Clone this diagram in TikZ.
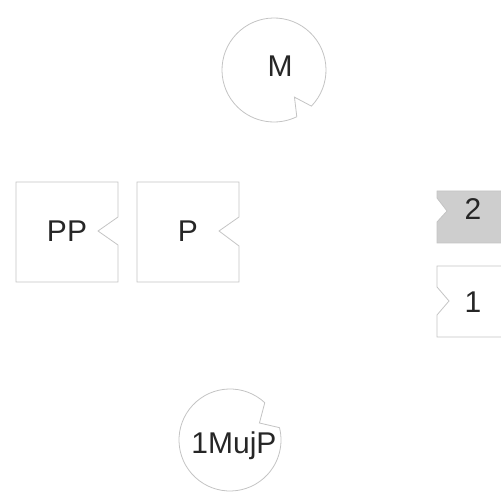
\documentclass[tikz,border=0pt]{standalone}
\usepackage{fontspec}
\setmainfont{Liberation Sans}
\usetikzlibrary{calc}
\definecolor{edgegray}{RGB}{196,196,196}
\definecolor{fillgray}{RGB}{206,206,206}
\definecolor{txt}{RGB}{38,38,38}
\begin{document}
\begin{tikzpicture}[x=1pt,y=1pt,
  shapeline/.style={draw=edgegray,line width=0.8pt,line join=miter},
  label/.style={text=txt,inner sep=0pt,text depth=0pt,font=\fontsize{30}{36}\selectfont}]
\useasboundingbox (0,0) rectangle (501,500);
\clip (0,0) rectangle (501,500);
% circle M with wedge at lower right
\coordinate (cM) at (274,430);
\draw[shapeline,fill=white] ($(cM)+(-44:52)$) arc[start angle=-44,end angle=296,radius=52]
  -- ($(cM)+(-53:34)$) -- cycle;
\node[label] (M) at (280,433.5) {M};
% boxes PP and P with notch on the right
\draw[shapeline] (16,318) -- (118,318) -- (118,283) -- (98,269) -- (118,255) -- (118,218) -- (16,218) -- cycle;
\node[label] (PP) at (67,269) {PP};
\draw[shapeline] (137,318) -- (239,318) -- (239,283) -- (219,269) -- (239,254) -- (239,218) -- (137,218) -- cycle;
\node[label] (P) at (188,269) {P};
% box 2 (grey) and box 1 with notch on the left
\draw[shapeline,fill=fillgray] (510,309) -- (437,309) -- (437,302) -- (447,289) -- (437,278) -- (437,257) -- (510,257) -- cycle;
\node[label] (two) at (473,291) {2};
\draw[shapeline] (510,234) -- (437,234) -- (437,213) -- (449,199) -- (437,185) -- (437,163) -- (510,163) -- cycle;
\node[label] (one) at (473,198) {1};
% circle 1MujP with wedge at upper right
\coordinate (cU) at (230,60);
\draw[shapeline,fill=white] ($(cU)+(47:51)$) arc[start angle=47,end angle=374,radius=51]
  -- ($(cU)+(30:34)$) -- cycle;
\node[label] (U) at (234,57) {1MujP};
\end{tikzpicture}
\end{document}
